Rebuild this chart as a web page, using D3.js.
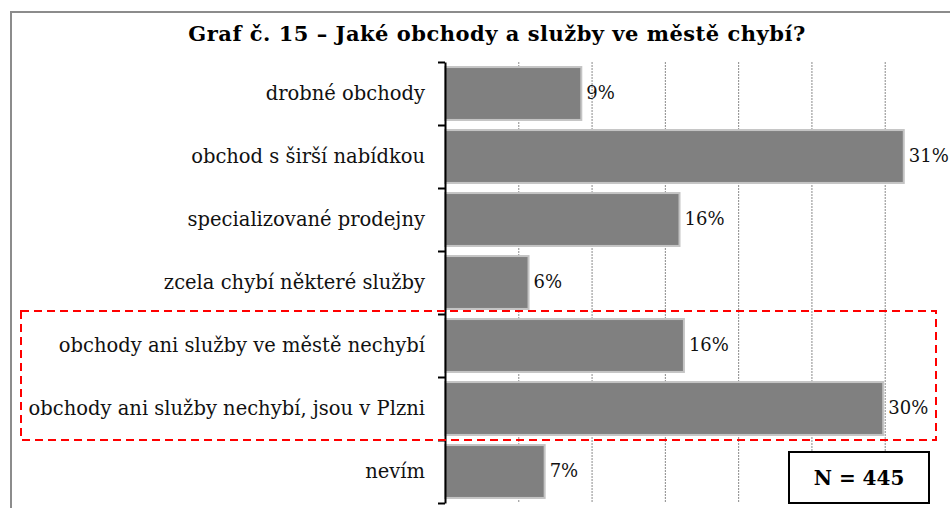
<!DOCTYPE html>
<html>
<head>
<meta charset="utf-8">
<script src="https://cdn.jsdelivr.net/npm/d3@7"></script>
<style>
  body { margin: 0; background: #fff; }
  svg { display: block; font-family: "DejaVu Serif", serif; }
</style>
</head>
<body>
<script>
'use strict';

const title = "Graf č. 15 – Jaké obchody a služby ve městě chybí?";
const categories = [
  "drobné obchody",
  "obchod s širší nabídkou",
  "specializované prodejny",
  "zcela chybí některé služby",
  "obchody ani služby ve městě nechybí",
  "obchody ani služby nechybí, jsou v Plzni",
  "nevím"
];
const values = [9.3, 31.3, 16.0, 5.7, 16.3, 29.9, 6.8];
const gridTicks = [5, 10, 15, 20, 25, 30];
const highlighted = ["obchody ani služby ve městě nechybí", "obchody ani služby nechybí, jsou v Plzni"];
const sampleSize = 445;

(function() {
  let width = 950;
  let height = 508;
  let svg = d3.select("body")
    .append("svg")
    .attr("width", width)
    .attr("height", height);

  // outer frame (cut off on the right and bottom)
  svg.append("path")
    .attr("d", "M11,508 V12 H950")
    .attr("fill", "none")
    .attr("stroke", "#8c8c8c")
    .attr("stroke-width", 2);

  svg.append("text")
    .attr("x", 497)
    .attr("y", 41)
    .attr("text-anchor", "middle")
    .attr("font-weight", "bold")
    .attr("font-size", 21)
    .attr("letter-spacing", 0.5)
    .text(title);

  let x = d3.scaleLinear()
    .domain([0, 35])
    .range([445, 958]);
  let y = d3.scaleBand()
    .domain(categories)
    .range([62, 503])
    .paddingInner(0.16)
    .paddingOuter(0.08);

  // dotted grid lines
  svg.append("g")
    .selectAll("line")
    .data(gridTicks)
    .enter()
    .append("line")
    .attr("x1", d => x(d) + 0.5)
    .attr("x2", d => x(d) + 0.5)
    .attr("y1", 62)
    .attr("y2", 503)
    .attr("stroke", "#8a8a8a")
    .attr("stroke-width", 1)
    .attr("stroke-dasharray", "2,1");

  // bars
  svg.append("g")
    .selectAll("rect")
    .data(categories)
    .enter()
    .append("rect")
    .attr("x", x(0))
    .attr("y", d => y(d))
    .attr("width", (d, i) => x(values[i]) - x(0))
    .attr("height", y.bandwidth())
    .attr("fill", "#808080")
    .attr("stroke", "#c4c4c4")
    .attr("stroke-width", 2);

  // value labels
  svg.append("g")
    .selectAll("text")
    .data(categories)
    .enter()
    .append("text")
    .attr("x", (d, i) => x(values[i]) + 5)
    .attr("y", d => y(d) + y.bandwidth() / 2 - 1)
    .attr("dy", "0.35em")
    .attr("font-size", 18)
    .attr("fill", "#111")
    .text((d, i) => Math.round(values[i]) + "%");

  // category axis: ticks between categories
  let boundary = d3.scaleLinear()
    .domain([0, categories.length])
    .range([62, 503]);
  let axis = svg.append("g")
    .attr("transform", "translate(" + x(0) + ",0)")
    .call(d3.axisLeft(boundary)
      .tickValues(d3.range(categories.length + 1))
      .tickSizeInner(7)
      .tickSizeOuter(0)
      .tickFormat(""));
  axis.select(".domain").attr("stroke", "#000").attr("stroke-width", 2);
  axis.selectAll(".tick line").attr("stroke", "#000").attr("stroke-width", 2);

  // category labels
  svg.append("g")
    .selectAll("text")
    .data(categories)
    .enter()
    .append("text")
    .attr("x", 425)
    .attr("y", d => y(d) + y.bandwidth() / 2)
    .attr("dy", "0.35em")
    .attr("text-anchor", "end")
    .attr("font-size", 19.5)
    .attr("fill", "#111")
    .text(d => d);

  // red dashed highlight
  let top = y(highlighted[0]) - y.step() * y.paddingInner() / 2 - 3;
  let bottom = y(highlighted[1]) + y.bandwidth() + y.step() * y.paddingInner() / 2;
  svg.append("rect")
    .attr("x", 21)
    .attr("y", top)
    .attr("width", 915)
    .attr("height", bottom - top)
    .attr("fill", "none")
    .attr("stroke", "#ff0000")
    .attr("stroke-width", 2)
    .attr("stroke-dasharray", "8,5");

  // N box
  let nBox = svg.append("g");
  nBox.append("rect")
    .attr("x", 789)
    .attr("y", 452)
    .attr("width", 140)
    .attr("height", 51)
    .attr("fill", "#fff")
    .attr("stroke", "#000")
    .attr("stroke-width", 2);
  nBox.append("text")
    .attr("x", 859)
    .attr("y", 485)
    .attr("text-anchor", "middle")
    .attr("font-weight", "bold")
    .attr("font-size", 20)
    .text("N = " + sampleSize);
})();
</script>
</body>
</html>
